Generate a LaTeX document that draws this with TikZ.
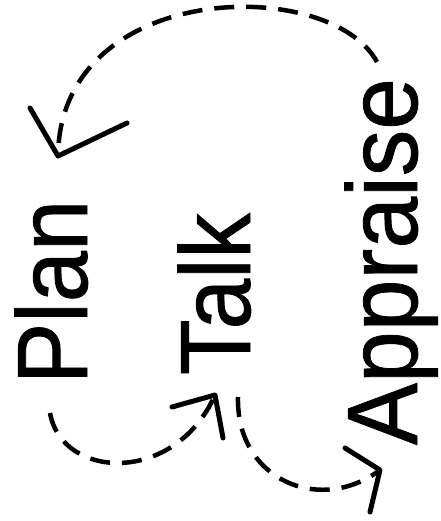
\documentclass[tikz,border=0pt]{standalone}
\usepackage{fontspec}
\setmainfont{Liberation Sans}
\newfontfamily\wordfont{Liberation Sans}[FakeBold=0.8]
\begin{document}
\begin{tikzpicture}[x=1pt,y=-1pt,
  word/.style={inner sep=0pt, outer sep=0pt, rotate=90, anchor=base west,
    font=\wordfont\fontsize{100}{100}\selectfont},
  flow/.style={line width=4.5pt, dash pattern=on 20pt off 12pt},
  head/.style={line width=5pt, line cap=round, line join=round}]
\useasboundingbox (0,0) rectangle (440,521);
% words
\node[word] (plan) at (87,384) {\scalebox{0.92}[1]{Plan}};
\node[word] (talk) at (250,375) {\scalebox{0.91}[1]{Talk}};
\node[word] (appraise) at (417,445) {\scalebox{0.93}[1]{Appraise}};
% connector ends
\coordinate (a1s) at (377,62);
\coordinate (a1t) at (58,156);
\coordinate (a1l) at (30,108);
\coordinate (a1r) at (127,123);
\coordinate (a2s) at (50,413);
\coordinate (a2t) at (215,395);
\coordinate (a2l) at (172,407);
\coordinate (a2r) at (223,438);
\coordinate (a3s) at (238,397);
\coordinate (a3t) at (380,470);
\coordinate (a3l) at (345,448);
\coordinate (a3r) at (370,512);
% Appraise -> Plan
\draw[flow] (a1s) .. controls (330,-25) and (60,-20) .. (a1t);
\draw[head] (a1l) -- (a1t) -- (a1r);
% Plan -> Talk
\draw[flow] (a2s) .. controls (62,480) and (175,485) .. (a2t);
\draw[head] (a2l) -- (a2t) -- (a2r);
% Talk -> Appraise
\draw[flow] (a3s) .. controls (236,480) and (320,515) .. (a3t);
\draw[head] (a3l) -- (a3t) -- (a3r);
\end{tikzpicture}
\end{document}
